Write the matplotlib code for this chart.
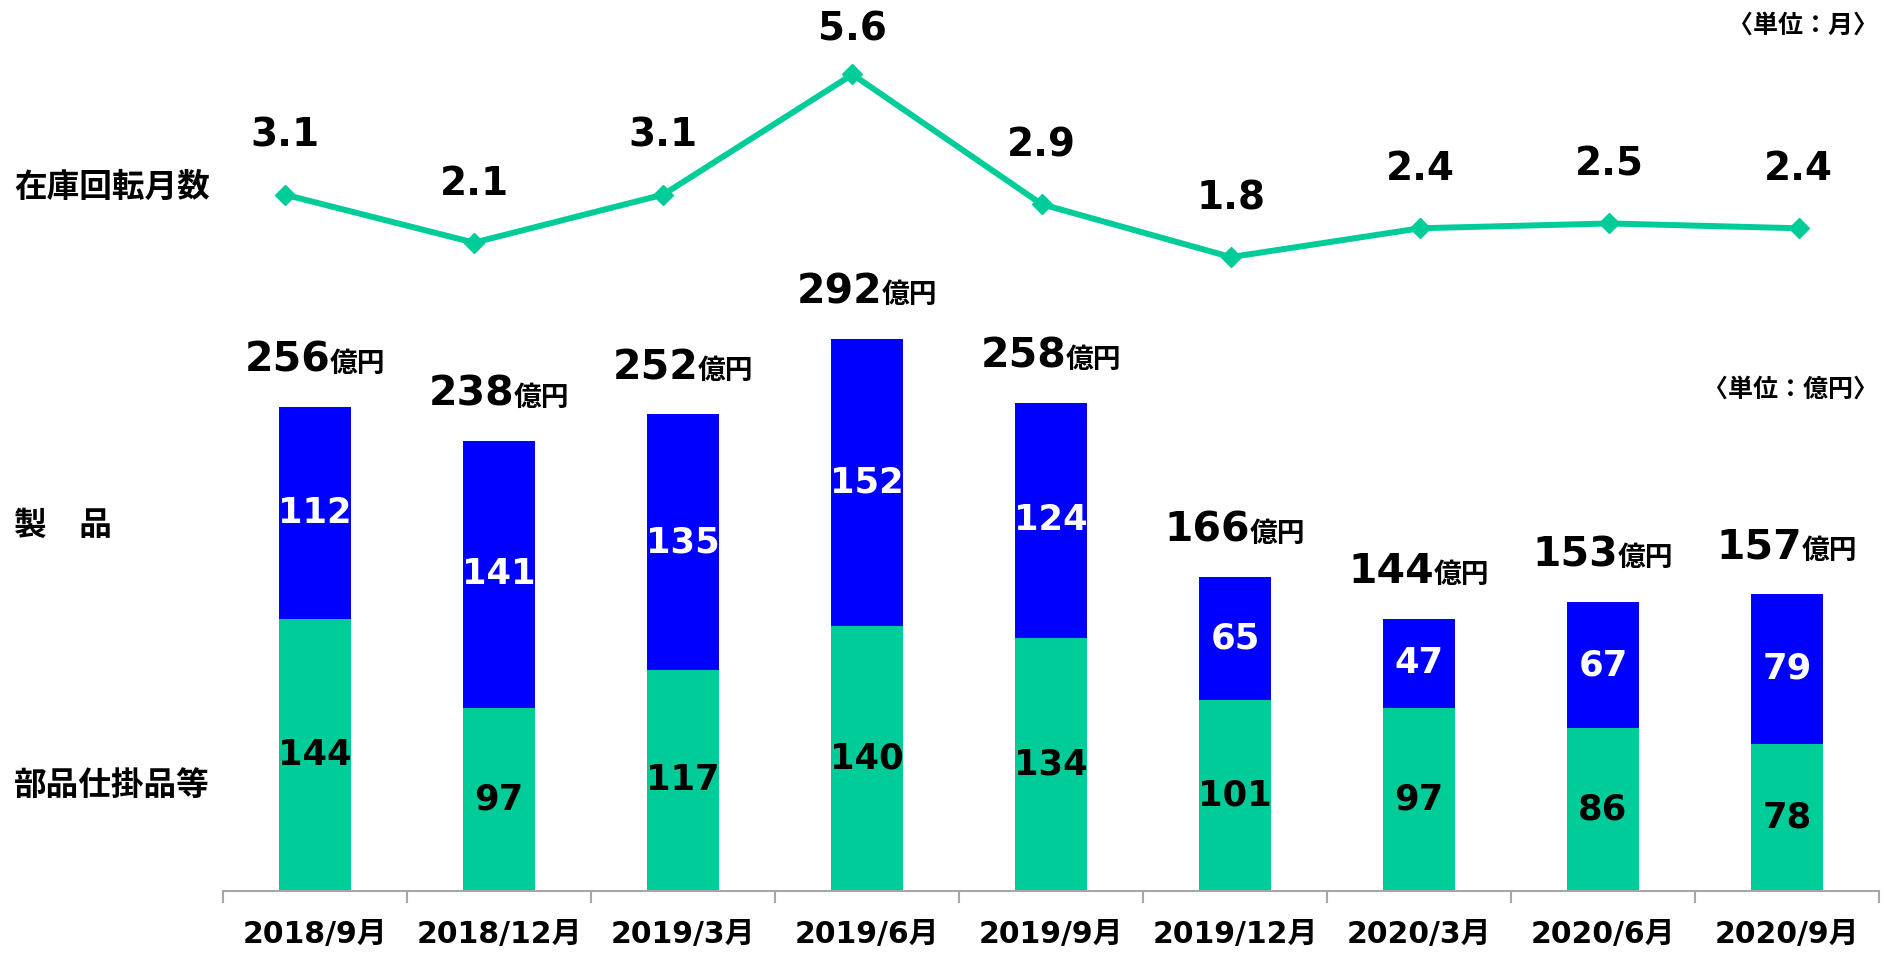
import matplotlib
matplotlib.use("Agg")
import matplotlib.pyplot as plt
import numpy as np
from matplotlib.offsetbox import TextArea, HPacker, AnnotationBbox

plt.rcParams['font.family'] = ['DejaVu Sans', 'Noto Sans CJK JP']
plt.rcParams['font.weight'] = 'bold'

# data
periods = ['2018/9月', '2018/12月', '2019/3月', '2019/6月', '2019/9月',
           '2019/12月', '2020/3月', '2020/6月', '2020/9月']
parts = [144, 97, 117, 140, 134, 101, 97, 86, 78]        # 部品仕掛品等
products = [112, 141, 135, 152, 124, 65, 47, 67, 79]     # 製品
totals = [256, 238, 252, 292, 258, 166, 144, 153, 157]
turnover = [3.1, 2.1, 3.1, 5.6, 2.9, 1.8, 2.4, 2.5, 2.4]  # 在庫回転月数

green = '#00CC99'
blue = '#0000FF'

W, H = 1884, 961
fig = plt.figure(figsize=(W / 100, H / 100), dpi=100)


def box(x0, y0, x1, y1):
    # pixel box (top-down) -> figure fraction
    return [x0 / W, 1 - y1 / H, (x1 - x0) / W, (y1 - y0) / H]


# bars
px_unit = 1.891
ax = fig.add_axes(box(223, 300, 1879, 891))
x = np.arange(len(periods))
ax.bar(x, parts, width=0.39, color=green)
ax.bar(x, products, width=0.39, bottom=parts, color=blue)
ax.set_xlim(-0.5, len(periods) - 0.5)
ax.set_ylim(0, 591 / px_unit)
for s in ['left', 'right', 'top']:
    ax.spines[s].set_visible(False)
ax.spines['bottom'].set_color('#A6A6A6')
ax.spines['bottom'].set_linewidth(1.5)
ax.set_yticks([])
ax.set_xticks(x)
ax.set_xticklabels(periods, fontsize=21.5, fontweight='bold')
ax.tick_params(axis='x', which='major', length=0, pad=21)
ax.set_xticks(np.arange(-0.5, len(periods)), minor=True)
ax.tick_params(axis='x', which='minor', length=8.5, width=1.5, color='#A6A6A6')

for i in range(len(periods)):
    ax.text(i, parts[i] / 2, str(parts[i]), ha='center', va='center',
            fontsize=25.5, fontweight='bold', color='black')
    ax.text(i, parts[i] + products[i] / 2, str(products[i]), ha='center', va='center',
            fontsize=25.5, fontweight='bold', color='white')
    label = HPacker(children=[
        TextArea(str(totals[i]), textprops=dict(fontsize=29.5, fontweight='bold', color='black')),
        TextArea('億円', textprops=dict(fontsize=20, fontweight='bold', color='black')),
    ], align='baseline', pad=0, sep=0)
    ab = AnnotationBbox(label, (i, parts[i] + products[i]), xybox=(0, 19),
                        xycoords='data', boxcoords='offset points',
                        box_alignment=(0.5, 0), frameon=False, pad=0,
                        annotation_clip=False)
    ax.add_artist(ab)

# line
zero_y = 343.6
px_month = 48.06
ax2 = fig.add_axes(box(284.8, 0, 1798.6, 891))
ax2.patch.set_alpha(0)
ax2.set_xlim(0, len(periods) - 1)
ax2.set_ylim(-(891 - zero_y) / px_month, zero_y / px_month)
ax2.axis('off')
ax2.plot(x, turnover, color=green, lw=4.3, marker='D', markersize=10, clip_on=False)
top_lim = (zero_y - 41) / px_month
for i, v in enumerate(turnover):
    ax2.text(i, min(v + 1.0, top_lim), f'{v:.1f}', ha='center', va='baseline',
             fontsize=28, fontweight='bold')

# side labels
fig.text(14 / W, 1 - 187 / H, '在庫回転月数', fontsize=23.5, fontweight='bold', va='center', ha='left')
fig.text(14 / W, 1 - 525 / H, '製\u3000品', fontsize=23.5, fontweight='bold', va='center', ha='left')
fig.text(14 / W, 1 - 786 / H, '部品仕掛品等', fontsize=23.5, fontweight='bold', va='center', ha='left')

fig.text(1878 / W, 1 - 26 / H, '〈単位：月〉', fontsize=18, fontweight='bold', va='center', ha='right')
fig.text(1878 / W, 1 - 390 / H, '〈単位：億円〉', fontsize=18, fontweight='bold', va='center', ha='right')

fig.savefig('out.png', dpi=100)
